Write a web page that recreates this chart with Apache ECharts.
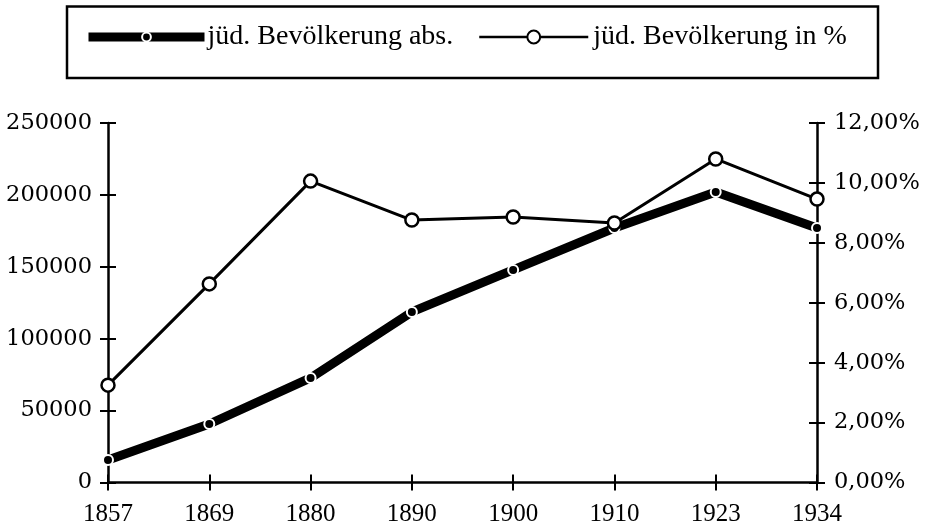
<!DOCTYPE html>
<html>
<head>
<meta charset="utf-8">
<script src="https://cdn.jsdelivr.net/npm/echarts@6/dist/echarts.min.js"></script>
<style>html,body{margin:0;padding:0;background:#fff}#c{width:928px;height:527px}</style>
</head>
<body>
<div id="c"></div>
<script>
const years = ['1857','1869','1880','1890','1900','1910','1923','1934'];
const absVals = [15600, 40700, 72700, 118600, 147800, 177000, 202000, 177000];
const pctVals = [3.25, 6.63, 10.06, 8.76, 8.86, 8.66, 10.80, 9.46];
const absName = 'jüd. Bevölkerung abs.';
const pctName = 'jüd. Bevölkerung in %';

const chart = echarts.init(document.getElementById('c'));
const gridBox = {left: 108, right: 111, top: 123, bottom: 44.5};
const axisLineStyle = {color: '#000', width: 2.5};
const yLabelFont = {color: '#000', fontFamily: 'DejaVu Serif', fontSize: 22.5};
chart.setOption({
  animation: false,
  backgroundColor: '#fff',
  graphic: [{
    type: 'rect', shape: {x: 67, y: 6.5, width: 811, height: 71.5},
    style: {fill: 'none', stroke: '#000', lineWidth: 2.5}, z: 0
  }],
  legend: [{
    data: [{name: absName, lineStyle: {width: 9, color: '#000'}}],
    left: 84, top: 23, padding: 0, itemWidth: 116, itemHeight: 11, itemGap: 0,
    textStyle: {color: '#000', fontFamily: 'Liberation Serif', fontSize: 28, padding: [0,0,0,-2]}
  }, {
    data: [{name: pctName, lineStyle: {width: 2.5, color: '#000'}}],
    left: 478, top: 23, padding: 0, itemWidth: 109, itemHeight: 16, itemGap: 0,
    textStyle: {color: '#000', fontFamily: 'Liberation Serif', fontSize: 28}
  }],
  grid: [Object.assign({}, gridBox), Object.assign({}, gridBox)],
  xAxis: [{
    type: 'category', data: years, boundaryGap: false, gridIndex: 0,
    axisLine: {lineStyle: axisLineStyle},
    axisTick: {inside: false, length: 8, lineStyle: {color: '#000', width: 2}},
    axisLabel: {color: '#000', fontFamily: 'Liberation Serif', fontSize: 25, margin: 19, interval: 0},
    splitLine: {show: false}
  }, {
    type: 'category', data: years, boundaryGap: false, gridIndex: 1,
    axisLine: {show: false},
    axisTick: {inside: true, length: 8, lineStyle: {color: '#000', width: 2}},
    axisLabel: {show: false}, splitLine: {show: false}
  }],
  yAxis: [{
    type: 'value', min: 0, max: 250000, interval: 50000, position: 'left', gridIndex: 0,
    axisLine: {show: true, lineStyle: axisLineStyle},
    axisTick: {show: true, inside: false, length: 8, lineStyle: {color: '#000', width: 2}},
    axisLabel: Object.assign({margin: 16, formatter: v => String(v)}, yLabelFont),
    splitLine: {show: false}
  }, {
    type: 'value', min: 0, max: 12, interval: 2, position: 'right', gridIndex: 0,
    axisLine: {show: true, lineStyle: axisLineStyle},
    axisTick: {show: true, inside: false, length: 8, lineStyle: {color: '#000', width: 2}},
    axisLabel: Object.assign({margin: 17, formatter: v => v.toFixed(2).replace('.', ',') + '%'}, yLabelFont),
    splitLine: {show: false}
  }, {
    type: 'value', min: 0, max: 250000, interval: 50000, position: 'left', gridIndex: 1,
    axisLine: {show: false},
    axisTick: {show: true, inside: true, length: 8, lineStyle: {color: '#000', width: 2}},
    axisLabel: {show: false}, splitLine: {show: false}
  }, {
    type: 'value', min: 0, max: 12, interval: 2, position: 'right', gridIndex: 1,
    axisLine: {show: false},
    axisTick: {show: true, inside: true, length: 8, lineStyle: {color: '#000', width: 2}},
    axisLabel: {show: false}, splitLine: {show: false}
  }],
  series: [{
    name: absName, type: 'line', data: absVals, xAxisIndex: 0, yAxisIndex: 0,
    lineStyle: {color: '#000', width: 9},
    symbol: 'circle', symbolSize: 10,
    itemStyle: {color: '#000', borderColor: '#fff', borderWidth: 2},
    z: 2
  }, {
    name: pctName, type: 'line', data: pctVals, xAxisIndex: 0, yAxisIndex: 1,
    lineStyle: {color: '#000', width: 3},
    symbol: 'circle', symbolSize: 13,
    itemStyle: {color: '#fff', borderColor: '#000', borderWidth: 2.5},
    z: 3
  }]
});
</script>
</body>
</html>
